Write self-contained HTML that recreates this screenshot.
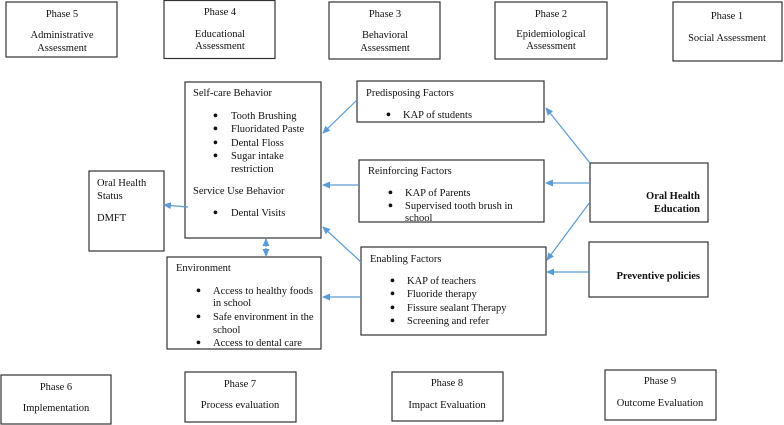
<!DOCTYPE html>
<html><head><meta charset="utf-8"><style>
html,body{margin:0;padding:0;background:#fff;}
svg{display:block;}
text{font-family:"Liberation Serif",serif;font-size:10.5px;fill:#111;}
text.d{font-size:14px;font-weight:bold;}
.c{text-anchor:middle;}
.b{font-weight:bold;text-anchor:end;}
rect{fill:#fff;stroke:#333;stroke-width:1.2;}
line{stroke:#5b9bd5;stroke-width:1.2;}
</style></head><body>
<svg width="784" height="425" viewBox="0 0 784 425">
<defs><marker id="a" markerWidth="8" markerHeight="8" refX="7" refY="4" orient="auto" markerUnits="userSpaceOnUse"><path d="M0,0.5 L8,4 L0,7.5 Z" fill="#5b9bd5"/></marker></defs>
<rect x="6" y="2" width="111" height="55"/>
<text class="c" x="62" y="17">Phase 5</text><text class="c" x="62" y="38">Administrative</text><text class="c" x="62" y="51">Assessment</text>
<rect x="164" y="0.5" width="111" height="58"/>
<text class="c" x="220" y="15">Phase 4</text><text class="c" x="220" y="37">Educational</text><text class="c" x="220" y="49">Assessment</text>
<rect x="329" y="2" width="111" height="57"/>
<text class="c" x="385" y="17">Phase 3</text><text class="c" x="385" y="38">Behavioral</text><text class="c" x="385" y="51">Assessment</text>
<rect x="495" y="2" width="112" height="57"/>
<text class="c" x="551" y="17">Phase 2</text><text class="c" x="551" y="37">Epidemiological</text><text class="c" x="551" y="49">Assessment</text>
<rect x="673" y="2" width="109" height="59"/>
<text class="c" x="727" y="19">Phase 1</text><text class="c" x="727" y="41">Social Assessment</text>
<rect x="185" y="82" width="136" height="156"/>
<text x="193" y="96">Self-care Behavior</text>
<text class="d" x="213" y="120">•</text><text x="231" y="119">Tooth Brushing</text>
<text class="d" x="213" y="133">•</text><text x="231" y="132">Fluoridated Paste</text>
<text class="d" x="213" y="147">•</text><text x="231" y="146">Dental Floss</text>
<text class="d" x="213" y="160">•</text><text x="231" y="159">Sugar intake</text>
<text x="231" y="172">restriction</text>
<text x="193" y="194">Service Use Behavior</text>
<text class="d" x="213" y="217">•</text><text x="231" y="216">Dental Visits</text>
<rect x="89" y="171" width="75" height="80"/>
<text x="97" y="186">Oral Health</text><text x="97" y="199">Status</text><text x="97" y="221">DMFT</text>
<rect x="167" y="257" width="154" height="92"/>
<text x="176" y="271">Environment</text>
<text class="d" x="196" y="295">•</text><text x="213" y="294">Access to healthy foods</text>
<text x="213" y="306">in school</text>
<text class="d" x="196" y="321">•</text><text x="213" y="320">Safe environment in the</text>
<text x="213" y="333">school</text>
<text class="d" x="196" y="347">•</text><text x="213" y="346">Access to dental care</text>
<rect x="357" y="81" width="187" height="41"/>
<text x="366" y="96">Predisposing Factors</text>
<text class="d" x="386" y="119">•</text><text x="403" y="118">KAP of students</text>
<rect x="359" y="160" width="185" height="62"/>
<text x="368" y="174">Reinforcing Factors</text>
<text class="d" x="388" y="197">•</text><text x="405" y="196">KAP of Parents</text>
<text class="d" x="388" y="210">•</text><text x="405" y="209">Supervised tooth brush in</text>
<text x="405" y="221">school</text>
<rect x="361" y="247" width="185" height="88"/>
<text x="370" y="262">Enabling Factors</text>
<text class="d" x="390" y="285">•</text><text x="407" y="284">KAP of teachers</text>
<text class="d" x="390" y="298">•</text><text x="407" y="297">Fluoride therapy</text>
<text class="d" x="390" y="312">•</text><text x="407" y="311">Fissure sealant Therapy</text>
<text class="d" x="390" y="325">•</text><text x="407" y="324">Screening and refer</text>
<rect x="590" y="163" width="118" height="59"/>
<text class="b" x="700" y="199">Oral Health</text><text class="b" x="700" y="212">Education</text>
<rect x="589" y="242" width="119" height="55"/>
<text class="b" x="700" y="279">Preventive policies</text>
<line x1="357" y1="100" x2="323" y2="133" marker-end="url(#a)"/>
<line x1="359" y1="185" x2="323" y2="185" marker-end="url(#a)"/>
<line x1="361" y1="262" x2="323" y2="227" marker-end="url(#a)"/>
<line x1="361" y1="297" x2="323" y2="297" marker-end="url(#a)"/>
<line x1="188" y1="207" x2="164" y2="205" marker-end="url(#a)"/>
<line x1="266" y1="247" x2="266" y2="239" marker-end="url(#a)"/>
<line x1="266" y1="248" x2="266" y2="256" marker-end="url(#a)"/>
<line x1="590" y1="163" x2="546" y2="108" marker-end="url(#a)"/>
<line x1="590" y1="183" x2="546" y2="183" marker-end="url(#a)"/>
<line x1="590" y1="202" x2="547" y2="260" marker-end="url(#a)"/>
<line x1="589" y1="272" x2="547" y2="272" marker-end="url(#a)"/>
<rect x="1" y="375" width="110" height="49"/>
<text class="c" x="56" y="390">Phase 6</text><text class="c" x="56" y="411">Implementation</text>
<rect x="185" y="372" width="111" height="50"/>
<text class="c" x="240" y="387">Phase 7</text><text class="c" x="240" y="408">Process evaluation</text>
<rect x="392" y="372" width="111" height="49"/>
<text class="c" x="447" y="386">Phase 8</text><text class="c" x="447" y="408">Impact Evaluation</text>
<rect x="605" y="370" width="111" height="50"/>
<text class="c" x="660" y="384">Phase 9</text><text class="c" x="660" y="406">Outcome Evaluation</text>
</svg>
</body></html>
